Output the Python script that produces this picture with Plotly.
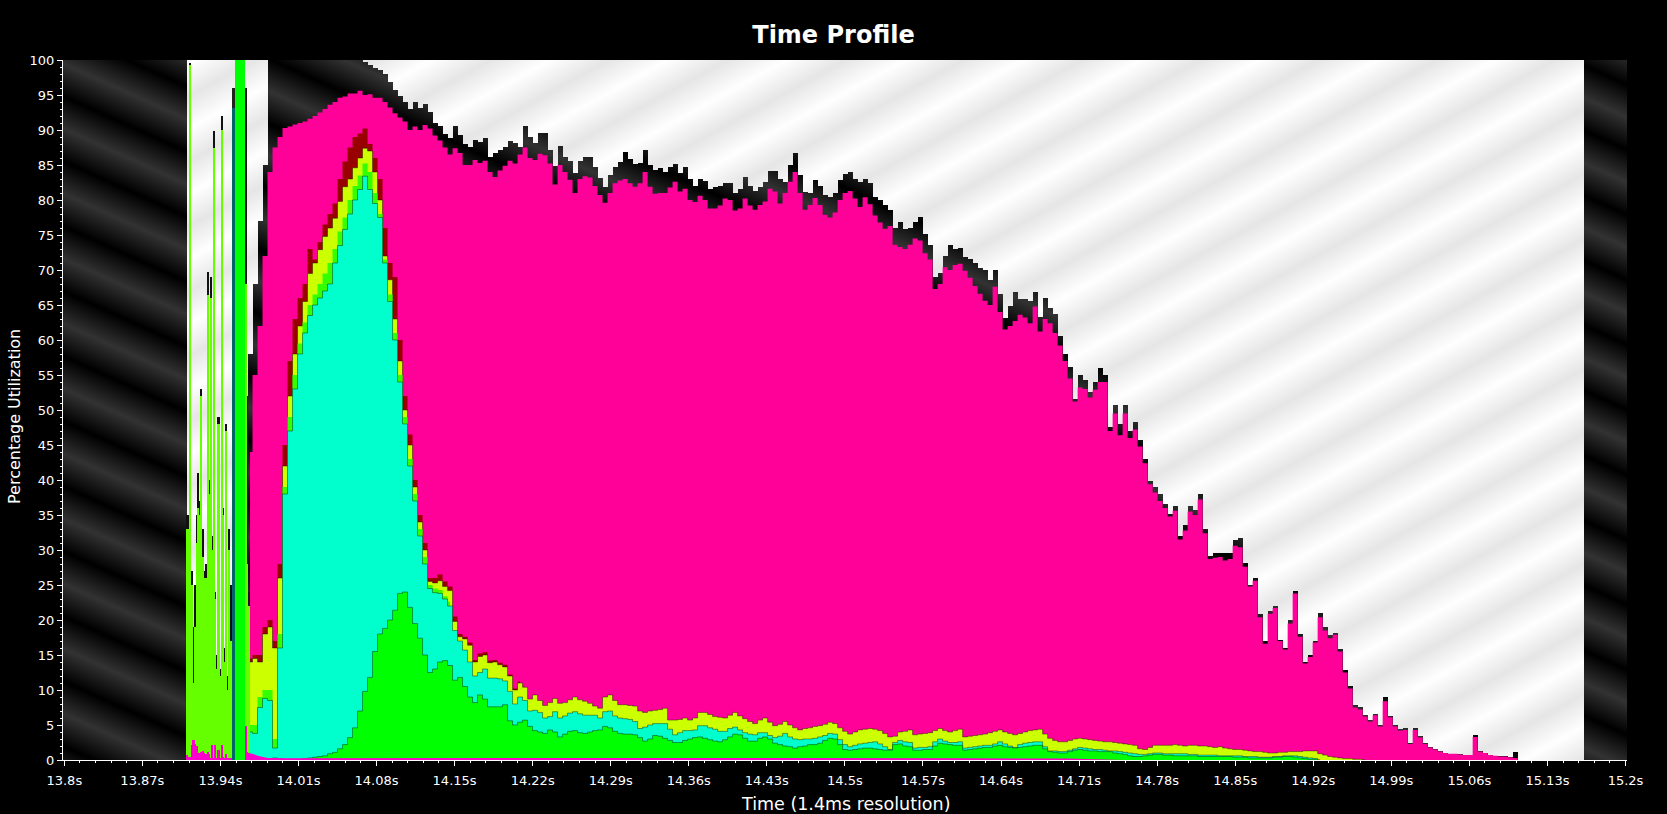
import numpy as np
import plotly.graph_objects as go

GRID_START = 13.96655
GRID_STEP = 0.0044843

outer_top = [58,68,77,85,100,100,100,100,
100,100,100,100,100,100,100,100,100,100,100,100,100,100,100,
99.7,99.3,98.9,98.6,98,96.8,95.7,94.9,94,93,94,93.2,93.7,92.5,91,90.5,89.4,88.8,90.6,89.3,88,87.6,88.5,88.3,88.9,86.2,86.7,87.2,87.6,88.4,88.2,87.6,90.6,89,88.2,89.5,89.6,87.2,84.8,87.7,86.2,85.6,83.8,85.6,86.1,86.1,84.7,83.1,81.9,83.5,84.7,85.4,86.8,85.9,85.1,85.3,87.2,85,84.3,84.6,84,84.7,85.1,83.9,84.7,83,82,83,82.7,81.5,81.9,82,82.4,82.4,81,81.5,83.3,82,81.3,81.9,82.5,
84.2,84.2,83,82.5,85,86.7,83.5,81.2,81,82.8,82,80.7,80.4,81,82.8,83.7,84,83,82.6,83,82.4,80.4,80,79.3,78.6,76,76.9,75.9,76,76.9,77.5,75.2,73.5,69,69.6,72,73.5,73,73.2,71.9,71.5,71,70.3,70,68.5,70,66.5,63.1,64.8,66.9,65.8,65.9,65.6,66.8,63.3,66,64.5,63.7,60.5,58,56.2,51.5,55,54.3,52.5,54,56,55,47.5,50.7,48,50.7,47,48.3,45.7,43,39.8,39,38,36.5,35.2,36.3,32,33.5,36.3,35.7,38,33,29.2,29.5,29.5,29.5,29.5,31.4,31.7,28.1,25,26,20.9,17,21.3,22,17.2,16,20,24.2,18,14,15,17,21,19,17.8,18.2,15.8,12.8,10.5,7.8,7.5,6.4,5.7,6.6,5,9,6.3,5,4.4,4.5,2.4,4.5,3.4,2.4,1.9,1.6,1.3,1,.9,.9,.8,.7,.7,3.5,1.3,1,.7,.6,.5,.5,.4,1.2,0]

pink_top = [44,55,62,72,84,87.5,89,90.3,90.5,90.8,91,91.2,91.6,92,92.5,93,93.6,94,94.6,94.8,95.2,95.2,95.6,95,95.1,94.6,94.6,94,93.2,92.4,91.8,91.2,90,90.5,90,90.7,90.2,89.2,88.5,87.5,86.5,87.4,86.7,85,85,85.7,85.3,85.6,84,83.3,84.2,84.9,85.6,85.2,86.5,87.5,86,85.7,86.6,86.4,85.2,82.2,85,84,82.9,81,83,83.4,83.2,82,80.7,79.6,81,82.4,82.8,83,82.4,81.9,82.4,84,81.9,80.9,81,81,81.8,82.6,81.2,81.6,80,79.7,80.6,80,78.8,78.8,79.2,80.2,80,78.5,78.8,80.2,79.2,78.6,79.3,79.8,81.6,81.2,79.5,81,82.6,84,81,78.6,79.3,80.3,79.3,77.9,77.5,78.2,80,81,81.3,80.2,79,80.4,79.4,77.8,76.8,75.9,76.3,73.6,73.3,73,73.6,74.5,74.2,72.4,71.5,67.3,68,70.4,70,70.7,70.9,69.9,68.9,67.7,66.6,65.6,65,67.6,64,61.5,62,62.7,63.6,63.2,62.4,64.8,61.2,63,62.4,61,59.2,57,54.5,51.2,53.2,53,51.8,52.9,54,54,47,49.5,46.4,49.5,46,47.2,44.8,42.4,39.4,38.2,37,36,34.8,35.6,31.5,32.8,35.5,35,37.2,32.4,28.7,28.9,29,28.5,28.7,30.6,30.4,27.6,24.8,25.6,20.4,16.6,20.9,21.7,17,15.8,19.5,23.8,17.6,13.8,14.7,16.8,20.4,18.5,17.4,17.9,15.5,12.5,10.2,7.5,7.2,6.2,5.5,6.4,4.8,8.4,6.1,4.8,4.2,4.3,2.3,4.3,3.2,2.3,1.8,1.5,1.2,1,.9,.9,.8,.7,.7,3.3,1.2,1,.7,.6,.5,.5,.4,.3,0]

red_top = [14.5,15,15,19,20,17,28,45,57,63,66,68,73,71.5,74,76.5,78,79.5,83,85.5,87.5,89,89.5,90.2,88,86,83,76,71,69,60,52,46.5,40,35,31,26,26,26.5,25.5,24.8,20.5,18,17.6,16.8,14.3,15.2,15.4,14.2,14.3,13.9,13.6,12.2,10.2,11.2]

yellow_top = [14,14.5,14,18,19,16,26,42,52,58,62,65.5,69.5,71,72.9,74.8,76,77.4,79.8,81.9,83,84.6,86,87.4,87,84,80,72,68.6,63,57,50,45,39,34,30,25.5,25.3,25.6,24.8,24.2,19.8,17.6,17.3,16.4,14,14.8,15,13.9,14,13.6,13.3,12,10,11,10.4,8.7,9.3,8.5,7.8,8.2,8.8,8.1,8.2,8.6,9,8.6,8.4,8.1,7.7,7.4,9,9.3,8.5,7.9,7.9,7.8,7.7,7,6.8,7,7.1,7.2,7.4,5.7,5.7,5.8,6,5.7,6,6.8,6.8,6.5,6.2,6.1,6,6.4,6.8,6.3,5.9,5.5,5.2,5.7,6,5.4,4.9,5.1,5.5,5,4.6,4.3,4.5,4.6,4.8,4.9,5.1,5.4,5.2,4.6,4.1,3.7,4,4.3,4.4,4.5,4.4,4.2,3.8,3.3,3.4,4,4.1,4.3,3.6,3.7,3.8,3.9,4.2,4.5,4.2,4,4.2,4.4,3.3,3.4,3.5,3.6,3.7,3.9,4.1,4.3,4,3.8,3.6,3.8,4,4.2,4.3,4.4,3.7,3.1,2.8,2.6,2.6,2.8,3,3.1,3,2.9,2.8,2.7,2.6,2.6,2.5,2.4,2.3,2.2,2.1,1.6,1.5,1.8,2.1,2.1,2.1,2.1,2.2,2.1,2,2.1,2.1,2,2,1.9,1.8,1.9,1.7,1.6,1.5,1.5,1.4,1.3,1.2,1.2,1.1,1,1,1.1,1.1,1.2,1.2,1.2,1.3,1.3,1.3,.9,.7,.5,.4,.3,.2,.2,.1,.1,0]

lime_top = [5,5,9,10,10,3,18,39,49,55,59.5,62.5,65,66.5,68,69.5,71,73,75.5,77.5,80,82,83.5,85.2,84,81,78,71.5,66.5,61,55,49,43,38,33,29,25,24.5,24.3,23.4,22.6]

cyan_top = [4,3.8,7.5,8.8,8.5,1.7,16,38,47,53,58,61,63.5,65,66,67,68,71,73.5,75.8,78,80,81.5,83.4,81.5,79.5,77.5,71,65.5,60,54,48,42,37,32,28,24.5,23.9,23.8,23,22,18.5,17,15.7,14,12,12.5,13,11.7,11.7,11.6,11.3,9.8,8,9,8.5,7,7.1,6.8,6,6.2,6.9,6,6.3,6.7,6.9,6.6,6.4,6.4,6.4,6,6.9,7,6.3,6,5.9,5.8,5.5,4.5,4.7,5,5.2,5.2,5.2,4.4,3.6,3.9,4.2,4.2,4.3,4.9,4.9,4.6,4.4,4.1,4.1,4.5,4.7,4.3,3.9,3.7,3.6,3.9,3.9,3.5,3.2,3.4,3.8,3.3,3,2.9,3,3,3.1,3.3,3.5,3.8,3.7,2.9,2.2,1.9,2.1,2.3,2.4,2.5,2.6,2.3,1.9,1.5,2.5,2.8,2.6,2.5,1.7,1.8,1.8,1.9,2.6,3,2.7,2.5,2.5,2.6,1.7,1.8,1.9,2,2.1,2.1,2.3,2.6,2.3,2,1.8,2.2,2.4,2.5,2.6,2.6,1.9,1.3,1.3,1.2,1.2,1.4,1.6,1.8,1.7,1.6,1.5,1.5,1.4,1.3,1.3,1.2,1.1,1,.9,.8,.8,.9,1,1,.9,.9,.9,.9,.9,.8,.8,.7,.7,.7,.7,.6,.6,.6,.6,.6,.5,.5,.5,.4,.4,.4,.5,.5,.6,.6,.6,.5,.4,.3,.2,0]

green_top = [.7,.4,.3,.2,.2,.3,.2,.1,.1,.1,.1,.2,.3,.4,.5,.6,.9,1.1,1.6,2.2,3.2,4.6,7,9.8,11.8,15.5,18,18.8,20,21.4,23.8,24,21.8,19.5,17.4,15,12.5,13,14,14.2,13.5,11.4,11.8,10.5,9,8.2,9.3,8.7,7.6,7.6,7.6,7.9,5.6,5,5.4,5.7,4.8,4.2,4,3.8,4.3,4,3.3,3.7,4.1,4.2,3.9,3.8,4,4.2,4.3,4.8,4.6,4.1,3.8,3.7,3.7,3.6,3.2,2.7,3,3.5,3.4,3.1,2.8,2.5,2.5,2.8,3,3.2,3.3,3.1,2.9,2.7,2.6,2.9,3.3,3.7,3.6,3.1,2.7,2.7,3.1,3.3,3,2.4,2.2,2,1.9,1.7,1.9,2,2.2,2.2,2.4,2.8,3.1,3,2.2,1.5,1.4,1.5,1.6,1.7,1.7,1.6,1.5,1.4,1.4,2.2,2.3,2,1.9,1.4,1.4,1.5,1.5,2,2.4,2.3,2.2,2.1,2.1,1.4,1.5,1.6,1.7,1.8,1.8,2,2.1,1.9,1.8,1.7,1.8,1.9,2,2.1,2.1,1.6,1.2,1.1,1,1,1.2,1.4,1.5,1.4,1.3,1.3,1.2,1.2,1.2,1,.9,.8,.6,.5,.5,.6,.7,.8,.8,.7,.7,.6,.6,.6,.6,.6,.5,.5,.5,.5,.5,.5,.5,.4,.4,.4,.3,.3,.3,.3,.3,.4,.4,.5,.5,.4,.3,.2,.1,.1,0]

magenta_times = [13.9644,13.9689,13.9734,13.978,13.9824,14.0,14.2,14.4,14.6,14.7,14.75]
magenta_top = [1,.9,.6,.4,.3,.25,.3,.3,.25,.2,0]

# burst columns at the start of the run (1.4 ms bins)
burst_start = 13.9105
burst_step = 0.0014
burst_top = [35,35,99.6,27,19,25,35,41,37,53,33,27,28,69.7,40,69,32,89.8,24,15,49,13,92,36,16,48,12,33,25]
burst_lime = [33,33,99.3,25,11,19,31,36,35,52,29,26,26,66.4,38,66,30,87.5,23,13,48,12,90,35,14,47,10,30,17]
burst_magenta = [.7,.5,.5,2.2,2.8,2.3,2,1,1,1.2,1.3,1,.8,1.2,.9,.2,2.1,.2,2.1,.2,1.5,.2,2.2,.5,.3,.8,.3,.2,.2]

teal_time, teal_width, teal_value, teal_top = 13.9518, 0.0027, 93.2, 96
green_bar_time, green_bar_width, green_bar_value = 13.9576, 0.0092, 100
late_times = [13.9628, 13.9644, 13.9659]
late_lime = [68, 28, 22]
late_top = [96, 52, 24]
late_magenta = [4.8, 1.2, 1]

run_start, run_end = 13.9100, 15.1629   # extent of the lit background
x_range = [13.79883, 15.20135]

tick_vals = [13.8,13.87,13.94,14.01,14.08,14.15,14.22,14.29,14.36,14.43,14.5,14.57,14.64,14.71,14.78,14.85,14.92,14.99,15.06,15.13,15.2]
tick_text = ["13.8s","13.87s","13.94s","14.01s","14.08s","14.15s","14.22s","14.29s","14.36s","14.43s","14.5s","14.57s","14.64s","14.71s","14.78s","14.85s","14.92s","14.99s","15.06s","15.13s","15.2s"]
y_ticks = list(range(0, 101, 5))

PINK, RED, YEL, LIME, CYAN, GREEN, MAG, BLIME, TEAL = "#ff0099", "#990000", "#ccff00", "#33ff00", "#00ffcc", "#00ff00", "#ff00cc", "#66ff00", "#006666"
FONT = "DejaVu Sans"


def grid(values):
    return GRID_START + GRID_STEP * np.arange(len(values))


# ---- striped background texture ----
W, H = 1564, 700
xpx = 63.5 + np.arange(W)
ypx = 60.5 + np.arange(H)
tgrid = x_range[0] + (np.arange(W) + 0.5) * (x_range[1] - x_range[0]) / W
vgrid = 100 - (np.arange(H) + 0.5) / 7
XP, YP = np.meshgrid(xpx, ypx)
fd = ((YP - 0.45 * XP) / 65 + 9.458) % 1
dark = 0x33 * np.abs(2 * fd - 1)
fl = ((YP + 0.55 * XP) / 65 - 14.579) % 1
light = 0xE6 + 25 * np.abs(2 * fl - 1)
outer_arr = np.array(outer_top, dtype=float)
idx = np.rint((tgrid - GRID_START) / GRID_STEP).astype(int)
inside = (idx >= 0) & (idx < len(outer_arr))
top_curve = np.where(inside, outer_arr[np.clip(idx, 0, len(outer_arr) - 1)], 0.0)
T, V = np.meshgrid(tgrid, vgrid)
is_light = (T >= run_start) & (T <= run_end) & (V > top_curve[None, :].repeat(H, 0))
bg = np.where(is_light, light, dark).astype(np.uint8)

fig = go.Figure()
fig.add_trace(go.Heatmap(x=tgrid, y=vgrid, z=bg, zmin=0, zmax=255,
                         colorscale=[[0, "#000000"], [1, "#ffffff"]], showscale=False,
                         hoverinfo="skip", zsmooth=False))

# burst columns
bt = burst_start + burst_step * np.arange(len(burst_top))
for vals, col in ((burst_top, "#111111"), (burst_lime, BLIME), (burst_magenta, MAG)):
    fig.add_trace(go.Bar(x=bt, y=vals, width=burst_step, marker=dict(color=col, line=dict(width=0)), showlegend=False))
for vals, col in ((late_top, "#111111"), (late_lime, BLIME), (late_magenta, MAG)):
    fig.add_trace(go.Bar(x=late_times, y=vals, width=burst_step, marker=dict(color=col, line=dict(width=0)), showlegend=False))
fig.add_trace(go.Bar(x=[teal_time], y=[teal_top], width=teal_width, marker=dict(color="#222222", line=dict(width=0)), showlegend=False))
fig.add_trace(go.Bar(x=[teal_time], y=[teal_value], width=teal_width, marker=dict(color=TEAL, line=dict(width=0)), showlegend=False))
fig.add_trace(go.Bar(x=[green_bar_time], y=[green_bar_value], width=green_bar_width, marker=dict(color=GREEN, line=dict(width=0)), showlegend=False))

# stacked bands, painted from the outermost inwards
bands = [(pink_top, PINK, 0), (red_top, RED, 0), (yellow_top, YEL, 0.4), (lime_top, LIME, 0),
         (cyan_top, CYAN, 0.4), (green_top, GREEN, 0.4)]
for vals, col, edge in bands:
    fig.add_trace(go.Scatter(x=grid(vals), y=vals, mode="lines", fill="tozeroy", fillcolor=col,
                             line=dict(color=f"rgba(0,0,0,{edge})", width=1 if edge else 0, shape="hvh"),
                             hoverinfo="skip", showlegend=False))
fig.add_trace(go.Scatter(x=magenta_times, y=magenta_top, mode="lines", fill="tozeroy", fillcolor=MAG,
                         line=dict(width=0), hoverinfo="skip", showlegend=False))

tickfont = dict(family=FONT, size=13, color="#ffffff")
fig.update_layout(
    width=1667, height=814, margin=dict(l=63, r=40, t=60, b=54),
    paper_bgcolor="#000000", plot_bgcolor="#000000", barmode="overlay", bargap=0,
    showlegend=False,
    title=dict(text="<b>Time Profile</b>", x=833.5 / 1667, xref="container", xanchor="center",
               y=1 - 35 / 814, yref="container", yanchor="middle",
               font=dict(family=FONT, size=24, color="#ffffff")),
    xaxis=dict(range=x_range, tickmode="array", tickvals=tick_vals, ticktext=tick_text,
               ticks="outside", ticklen=5, tickwidth=1, tickcolor="#ffffff", tickfont=tickfont,
               ticklabelstandoff=3,
               showline=True, linecolor="#ffffff", linewidth=1, showgrid=False, zeroline=False,
               minor=dict(tick0=13.8, dtick=0.014, ticks="outside", ticklen=2, tickwidth=1,
                          tickcolor="#ffffff", showgrid=False)),
    yaxis=dict(range=[0, 100], tickmode="array", tickvals=y_ticks,
               ticks="outside", ticklen=5, tickwidth=1, tickcolor="#ffffff", tickfont=tickfont,
               showline=True, linecolor="#ffffff", linewidth=1, showgrid=False, zeroline=False,
               minor=dict(tick0=0, dtick=1, ticks="outside", ticklen=2, tickwidth=1,
                          tickcolor="#ffffff", showgrid=False)),
    annotations=[
        dict(text="Time (1.4ms resolution)", xref="paper", yref="paper", x=0.5, y=0, yshift=-44,
             xanchor="center", yanchor="middle", showarrow=False,
             font=dict(family=FONT, size=17.5, color="#ffffff")),
        dict(text="Percentage Utilization", xref="paper", yref="paper", x=(14 - 63) / 1564, y=(760 - 417) / 700,
             textangle=-90, xanchor="center", yanchor="middle", showarrow=False,
             font=dict(family=FONT, size=16, color="#ffffff")),
    ],
)

fig.write_html("out.html", config=dict(displayModeBar=False),
               post_script="document.body.style.margin='0';document.body.style.background='#000';document.documentElement.style.overflow='hidden';")
